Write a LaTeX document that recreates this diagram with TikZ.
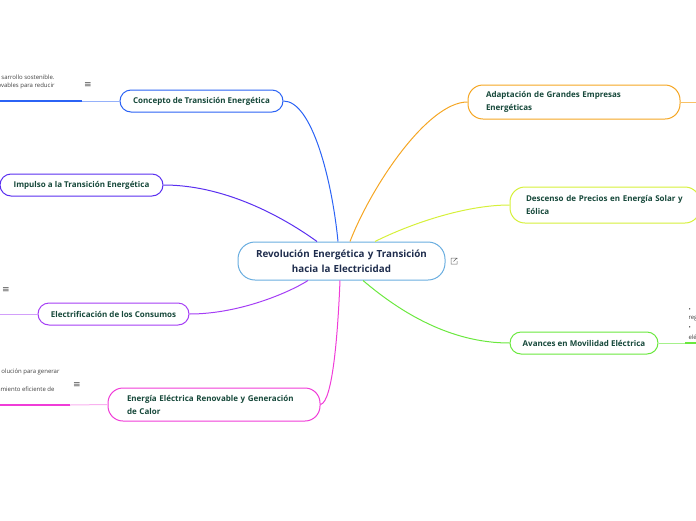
\documentclass[tikz,border=0pt]{standalone}
\usepackage{fontspec}
\setmainfont{Open Sans}
\newfontfamily\symfont{DejaVu Sans}
\usepackage{tikz}

\hyphenpenalty=10000
\exhyphenpenalty=10000

\definecolor{navy}{HTML}{1F2D4D}
\definecolor{leaf}{HTML}{16483A}
\definecolor{rimblue}{HTML}{6AAEE0}
\definecolor{cblue}{HTML}{2B63F5}
\definecolor{cindigo}{HTML}{5A2FF0}
\definecolor{cpurple}{HTML}{A53EF5}
\definecolor{cmagenta}{HTML}{F03CD8}
\definecolor{corange}{HTML}{F5A623}
\definecolor{clime}{HTML}{D6F03A}
\definecolor{cgreen}{HTML}{6AE83E}

\begin{document}
\begin{tikzpicture}[x = 1pt, y = -1pt, line width = 1pt,
                        root/.style = {rectangle, draw = rimblue, fill = white, rounded corners = 17pt,
                                       minimum width = 207pt, minimum height = 38pt, text width = 192pt,
                                       align = center, text = navy, inner sep = 0pt,
                                       font = \bfseries\fontsize{9.8}{15}\selectfont},
                        topic/.style = {rectangle, fill = white, rounded corners = 11pt, inner sep = 0pt,
                                        minimum height = 22pt, text = leaf,
                                        font = \bfseries\fontsize{8}{13}\selectfont},
                        note/.style = {inner sep = 0pt, text = black!75,
                                       font = \fontsize{6}{9}\selectfont},
                        menu/.style = {inner sep = 0pt, text = black!70, font = \symfont\fontsize{9}{9}\selectfont}]
      \useasboundingbox (0, 0) rectangle (696, 520);

      % centre
      \node [root] (rev) at (341.5, 261) {Revolución Energética y Transición\\hacia la Electricidad};
      \draw [black!60, line width = 0.5pt] (451, 258) -- (451, 264) -- (457, 264) -- (457, 261)
            (454, 258) -- (451, 258) (454, 258) -- (457, 258) -- (457, 259) (457, 258) -- (453.5, 261.5);

      % left branches
      \node [topic, draw = cblue, minimum width = 163pt, align = center] (con) at (201.5, 101)
            {Concepto de Transición Energética};
      \node [topic, draw = cindigo, minimum width = 163pt, align = center] (imp) at (81.5, 185)
            {Impulso a la Transición Energética};
      \node [topic, draw = cpurple, minimum width = 151pt, align = center] (ele) at (113.5, 314)
            {Electrificación de los Consumos};
      \node [topic, draw = cmagenta, rounded corners = 15pt, minimum width = 212pt, minimum height = 33pt,
             text width = 174pt, align = left] (ren) at (214, 404.5)
            {Energía Eléctrica Renovable y Generación de Calor};

      % right branches
      \node [topic, draw = corange, rounded corners = 15pt, minimum width = 212pt, minimum height = 34pt,
             text width = 176pt, align = left] (ada) at (574, 102)
            {Adaptación de Grandes Empresas Energéticas};
      \node [topic, draw = clime, rounded corners = 15pt, minimum width = 190pt, minimum height = 36pt,
             text width = 158pt, align = left] (des) at (605, 205)
            {Descenso de Precios en Energía Solar y Eólica};
      \node [topic, draw = cgreen, minimum width = 148pt, align = center] (avi) at (584, 343)
            {Avances en Movilidad Eléctrica};

      % connectors to the centre
      \draw [cblue] (con.east) .. controls (312, 101) and (332, 180) .. ([xshift = -3.5pt]rev.north);
      \draw [cindigo] (imp.east) .. controls (230, 185) and (290, 222) .. ([xshift = -24.5pt]rev.north);
      \draw [cpurple] (ele.east) .. controls (240, 314) and (290, 292) .. ([xshift = -33.5pt]rev.south);
      \draw [cmagenta] (ren.east) .. controls (333, 402) and (338, 330) .. ([xshift = -1.5pt]rev.south);
      \draw [corange] (ada.west) .. controls (428, 102) and (372, 185) .. ([xshift = 8.5pt]rev.north);
      \draw [clime] (des.west) .. controls (465, 205) and (410, 224) .. ([xshift = 33.5pt]rev.north);
      \draw [cgreen] (avi.west) .. controls (450, 343) and (400, 312) .. ([xshift = 21.5pt]rev.south);

      % notes and their lines
      \coordinate (conA) at (82, 101);
      \coordinate (conB) at (0, 101);
      \draw [cblue!50] (con.west) -- (conA);
      \draw [cblue, line width = 2pt] (conA) -- (conB);
      \node [note, anchor = east] (conN1) at (55, 77) {sarrollo sostenible.};
      \node [note, anchor = east] (conN2) at (55, 86) {ovables para reducir};
      \node [menu] (conM) at (88, 85) {≡};

      \coordinate (eleA) at (0, 314);
      \draw [cpurple!50] (ele.west) -- (eleA);
      \node [menu] (eleM) at (6, 290) {≡};

      \coordinate (renA) at (70, 405);
      \coordinate (renB) at (0, 405);
      \draw [cmagenta!40] (ren.west) -- (renA);
      \draw [cmagenta, line width = 2pt] (renA) -- (renB);
      \node [note, anchor = east] (renN1) at (60, 372) {olución para generar};
      \node [note, anchor = east] (renN2) at (55, 389) {amiento eficiente de};
      \node [menu] (renM) at (77, 385) {≡};

      \coordinate (adaA) at (696, 102);
      \draw [corange!70] (ada.east) -- (adaA);

      \coordinate (aviA) at (685, 343);
      \coordinate (aviB) at (696, 343);
      \draw [cgreen!60] (avi.east) -- (aviA);
      \draw [cgreen, line width = 2pt] (aviA) -- (aviB);
      \node [note, anchor = west] (aviN1) at (688, 310) {•};
      \node [note, anchor = west] (aviN2) at (688, 319) {reg};
      \node [note, anchor = west] (aviN3) at (688, 328) {•};
      \node [note, anchor = west] (aviN4) at (688, 337) {elé};
    \end{tikzpicture}
\end{document}
